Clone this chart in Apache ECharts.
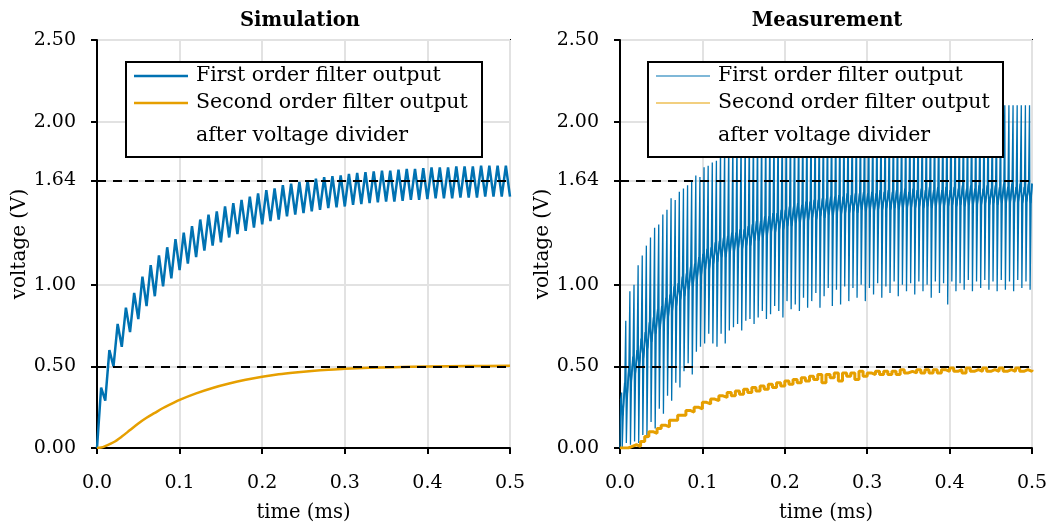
<!DOCTYPE html>
<html>
<head>
<meta charset="utf-8">
<script src="https://cdn.jsdelivr.net/npm/echarts@6/dist/echarts.min.js"></script>
<style>html,body{margin:0;padding:0;background:#fff}#c{width:1058px;height:528px}</style>
</head>
<body>
<div id="c"></div>
<script>
// ---------- data ----------
const xTicks = [0, 0.1, 0.2, 0.3, 0.4, 0.5];
const yTicks = [0, 0.5, 1.0, 1.64, 2.0, 2.5];
const refLines = [1.64, 0.5];
const titles = ['Simulation', 'Measurement'];
const seriesNames = ['First order filter output', 'Second order filter output\nafter voltage divider'];

// Simulation, first order: PWM period 0.01 ms; peaks at 0.005+0.01k, troughs at 0.01(k+1)
const simPwmPeriod = 0.01;
const simPeak = [0.37,0.60,0.76,0.86,0.95,1.05,1.12,1.18,1.23,1.28,1.32,1.36,1.40,1.43,1.45,1.48,1.50,1.52,1.54,1.56,1.58,1.59,1.61,1.62,1.63,1.64,1.65,1.66,1.665,1.67,1.68,1.685,1.69,1.695,1.70,1.70,1.705,1.71,1.71,1.715,1.72,1.72,1.72,1.725,1.725,1.725,1.73,1.73,1.73,1.73];
const simTrough = [0.29,0.50,0.62,0.71,0.79,0.87,0.93,0.99,1.04,1.09,1.13,1.17,1.21,1.24,1.26,1.29,1.31,1.33,1.35,1.37,1.39,1.40,1.42,1.43,1.44,1.45,1.46,1.47,1.475,1.48,1.49,1.495,1.50,1.505,1.51,1.51,1.515,1.52,1.52,1.525,1.53,1.53,1.53,1.535,1.535,1.535,1.54,1.54,1.54,1.54];

// Simulation, second order
const simOrdT = [0,0.005,0.01,0.02,0.03,0.04,0.05,0.06,0.07,0.08,0.09,0.10,0.12,0.14,0.16,0.18,0.20,0.22,0.24,0.26,0.28,0.30,0.33,0.36,0.40,0.45,0.50];
const simOrdV = [0,0.003,0.012,0.035,0.07,0.11,0.15,0.185,0.215,0.245,0.27,0.295,0.335,0.368,0.395,0.418,0.437,0.452,0.463,0.472,0.479,0.485,0.491,0.495,0.499,0.502,0.504];

// Measurement, first order: one switching spike every 0.005 ms
const measSpikeStep = 0.005;
const measTop = [0.34,0.78,0.96,1.00,1.12,1.18,1.24,1.29,1.35,1.37,
1.43,1.46,1.53,1.52,1.57,1.59,1.61,1.63,1.67,1.66,
1.72,1.73,1.75,1.76,1.85,1.87,1.89,1.91,1.93,1.95,
1.96,1.98,1.99,2.00,2.01,2.02,2.03,2.04,2.05,2.05,
2.06,2.06,2.07,2.07,2.08,2.08,2.08,2.09,2.09,2.09,
2.09,2.10,2.10,2.10,2.10,2.10,2.10,2.10,2.10,2.10,
2.10,2.10,2.10,2.10,2.10,2.10,2.10,2.10,2.10,2.10,
2.10,2.10,2.10,2.10,2.10,2.10,2.10,2.10,2.10,2.10,
2.10,2.10,2.10,2.10,2.10,2.10,2.10,2.10,2.10,2.10,
2.10,2.10,2.10,2.10,2.10,2.10,2.10,2.10,2.10,2.10];
const measBot = [0.00,0.03,0.02,0.04,0.03,0.08,0.06,0.16,0.12,0.24,
0.21,0.32,0.29,0.40,0.37,0.47,0.52,0.45,0.59,0.62,
0.64,0.70,0.64,0.62,0.70,0.64,0.72,0.74,0.76,0.72,
0.78,0.79,0.76,0.80,0.84,0.79,0.82,0.87,0.84,0.80,
0.90,0.85,0.88,0.84,0.92,0.86,0.90,0.95,0.86,0.93,
0.98,0.87,0.97,0.88,0.99,0.90,0.98,0.92,1.00,0.90,
0.98,0.94,1.01,0.92,0.99,0.95,1.02,0.93,1.00,0.96,
1.01,0.94,1.02,0.96,1.00,0.92,1.02,0.95,1.01,0.88,
1.02,0.96,1.01,0.97,1.03,0.96,1.02,0.98,1.03,0.97,
1.02,0.96,1.03,0.97,1.02,0.96,1.03,0.98,1.02,0.97];
const measBandHi = [0.30,0.40,0.50,0.56,0.60,0.67,0.71,0.77,0.80,0.85,
0.87,0.92,0.94,0.99,1.01,1.05,1.07,1.11,1.13,1.17,
1.19,1.22,1.23,1.26,1.27,1.29,1.30,1.32,1.32,1.34,
1.34,1.36,1.37,1.39,1.39,1.42,1.42,1.44,1.44,1.46,
1.46,1.48,1.48,1.50,1.49,1.51,1.51,1.52,1.52,1.53,
1.53,1.54,1.54,1.55,1.54,1.56,1.55,1.56,1.56,1.57,
1.56,1.57,1.56,1.58,1.57,1.58,1.57,1.58,1.57,1.59,
1.57,1.59,1.58,1.59,1.58,1.60,1.58,1.60,1.58,1.60,
1.58,1.60,1.59,1.61,1.59,1.61,1.59,1.61,1.59,1.61,
1.59,1.61,1.60,1.62,1.60,1.62,1.60,1.62,1.60,1.62];
const measBandLo = [0.20,0.30,0.40,0.45,0.50,0.55,0.61,0.65,0.70,0.73,
0.77,0.80,0.84,0.87,0.91,0.93,0.97,0.99,1.03,1.05,
1.09,1.10,1.13,1.14,1.17,1.17,1.20,1.20,1.22,1.22,
1.24,1.24,1.27,1.27,1.29,1.30,1.32,1.32,1.34,1.34,
1.36,1.36,1.38,1.38,1.39,1.39,1.41,1.40,1.42,1.41,
1.43,1.42,1.44,1.43,1.44,1.44,1.45,1.44,1.46,1.45,
1.46,1.45,1.46,1.46,1.47,1.46,1.47,1.46,1.47,1.47,
1.47,1.47,1.48,1.47,1.48,1.47,1.48,1.48,1.48,1.48,
1.49,1.48,1.49,1.48,1.49,1.49,1.49,1.49,1.50,1.49,
1.50,1.49,1.50,1.50,1.50,1.50,1.51,1.50,1.51,1.50];

// Measurement, second order (sampled every 0.005 ms)
const measOrdStep = 0.005;
const measOrd = [0.00,0.00,0.01,0.02,0.01,0.04,0.07,0.10,0.09,0.12,
0.14,0.13,0.17,0.17,0.20,0.20,0.23,0.22,0.25,0.24,
0.28,0.27,0.30,0.29,0.32,0.31,0.34,0.32,0.35,0.33,
0.36,0.34,0.37,0.35,0.38,0.36,0.39,0.37,0.40,0.38,
0.41,0.39,0.42,0.40,0.43,0.41,0.44,0.42,0.45,0.40,
0.45,0.43,0.46,0.41,0.46,0.44,0.46,0.42,0.47,0.44,
0.46,0.45,0.47,0.45,0.47,0.45,0.47,0.45,0.48,0.46,
0.47,0.46,0.48,0.46,0.48,0.46,0.48,0.46,0.48,0.47,
0.49,0.47,0.48,0.46,0.49,0.47,0.48,0.47,0.49,0.47,
0.48,0.47,0.49,0.47,0.48,0.47,0.49,0.47,0.48,0.47,0.48];

// ---------- build series data ----------
const BLUE = '#0072B2', ORANGE = '#E69F00';
const simBlueData = [[0, 0]];
simPeak.forEach((p, k) => {
  simBlueData.push([simPwmPeriod * k + simPwmPeriod / 2, p]);
  simBlueData.push([simPwmPeriod * (k + 1), simTrough[k]]);
});
const simOrdData = simOrdT.map((t, i) => [t, simOrdV[i]]);
const measBlueData = [[0, 0]];
const measBandData = [];
measTop.forEach((top, i) => {
  const t = 0.002 + measSpikeStep * i;
  measBlueData.push([t - 0.0012, measBandHi[i]]);
  measBlueData.push([t, top]);
  measBlueData.push([t + 0.0007, measBot[i]]);
  measBlueData.push([t + 0.0019, measBandLo[i]]);
  measBandData.push([t - 0.0012, measBandHi[i]]);
  measBandData.push([t + 0.0013, measBandLo[i]]);
});
measBlueData.push([0.5, measBandHi[measBandHi.length - 1]]);
measBandData.push([0.5, measBandHi[measBandHi.length - 1]]);
const measOrdData = measOrd.map((v, j) => [measOrdStep * j, v]);

// ---------- chart ----------
const FONT = 'DejaVu Serif';
const grids = [
  { left: 97, top: 40, width: 413, height: 413 },
  { left: 620, top: 40, width: 412, height: 413 }
];
function xAxis(i) {
  return {
    gridIndex: i, type: 'value', min: 0, max: 0.5, interval: 0.1,
    name: 'time (ms)', nameLocation: 'middle', nameGap: 55,
    nameTextStyle: { fontFamily: FONT, fontSize: 19.5, color: '#000' },
    axisLine: { lineStyle: { color: '#000', width: 2 } },
    axisTick: { length: 6, lineStyle: { color: '#000', width: 2 } },
    axisLabel: { fontFamily: FONT, fontSize: 19, color: '#000', margin: 26, formatter: v => v.toFixed(1) },
    splitLine: { show: true, lineStyle: { color: '#e2e2e2', width: 2 } }
  };
}
function yAxis(i) {
  return {
    gridIndex: i, type: 'value', min: 0, max: 2.5,
    name: 'voltage (V)', nameLocation: 'middle', nameGap: 64,
    nameTextStyle: { fontFamily: FONT, fontSize: 20, color: '#000' },
    axisLine: { lineStyle: { color: '#000', width: 2 } },
    axisTick: { length: 6, customValues: yTicks, lineStyle: { color: '#000', width: 2 } },
    axisLabel: { fontFamily: FONT, fontSize: 19, color: '#000', margin: 21, customValues: yTicks, formatter: v => v.toFixed(2) },
    splitLine: { show: true, lineStyle: { color: '#e2e2e2', width: 2 } }
  };
}
const dashLine = {
  silent: true, symbol: 'none', label: { show: false },
  lineStyle: { color: '#000', type: [9, 7], width: 2 },
  data: refLines.map(v => ({ yAxis: v }))
};

function legend(x, w, lw) {
  const y = 62;
  const ts = { fontFamily: FONT, fontSize: 20.5, fill: '#000', verticalAlign: 'middle' };
  return [
    { type: 'rect', z: 100, shape: { x: x, y: y, width: w, height: 95 }, style: { fill: '#fff', stroke: '#000', lineWidth: 2 } },
    { type: 'line', z: 101, shape: { x1: x + 8, y1: 76, x2: x + 62, y2: 76 }, style: { stroke: BLUE, lineWidth: lw } },
    { type: 'line', z: 101, shape: { x1: x + 8, y1: 103, x2: x + 62, y2: 103 }, style: { stroke: ORANGE, lineWidth: lw } },
    { type: 'text', z: 101, x: x + 70, y: 76, style: Object.assign({ text: seriesNames[0] }, ts) },
    { type: 'text', z: 101, x: x + 70, y: 103, style: Object.assign({ text: seriesNames[1].split('\n')[0] }, ts) },
    { type: 'text', z: 101, x: x + 70, y: 136, style: Object.assign({ text: seriesNames[1].split('\n')[1] }, ts) }
  ];
}

const option = {
  animation: false,
  backgroundColor: '#fff',
  title: [
    { text: titles[0], left: 295, top: 6, textAlign: 'center', textStyle: { fontFamily: FONT, fontSize: 19.5, fontWeight: 'bold', color: '#000' } },
    { text: titles[1], left: 822, top: 6, textAlign: 'center', textStyle: { fontFamily: FONT, fontSize: 19.5, fontWeight: 'bold', color: '#000' } }
  ],
  grid: grids.map(g => Object.assign({ show: true, borderColor: '#000', borderWidth: 2, backgroundColor: 'transparent' }, g)),
  xAxis: [xAxis(0), xAxis(1)],
  yAxis: [yAxis(0), yAxis(1)],
  series: [
    { type: 'line', name: 'simFirst', xAxisIndex: 0, yAxisIndex: 0, data: simBlueData, showSymbol: false, symbol: 'none', lineStyle: { color: BLUE, width: 2.5 }, z: 3, markLine: dashLine },
    { type: 'line', name: 'simSecond', xAxisIndex: 0, yAxisIndex: 0, data: simOrdData, showSymbol: false, symbol: 'none', smooth: 0.3, lineStyle: { color: ORANGE, width: 2.5 }, z: 3 },
    { type: 'line', name: 'measFirst', xAxisIndex: 1, yAxisIndex: 1, data: measBlueData, showSymbol: false, symbol: 'none', sampling: 'none', lineStyle: { color: BLUE, width: 1.3 }, z: 3, markLine: dashLine },
    { type: 'line', name: 'measFirstBand', xAxisIndex: 1, yAxisIndex: 1, data: measBandData, showSymbol: false, symbol: 'none', sampling: 'none', lineStyle: { color: BLUE, width: 1.7 }, z: 3 },
    { type: 'line', name: 'measSecond', xAxisIndex: 1, yAxisIndex: 1, data: measOrdData, showSymbol: false, symbol: 'none', step: 'end', lineStyle: { color: ORANGE, width: 3 }, z: 3 }
  ],
  graphic: legend(126, 356, 2.5).concat(legend(648, 355, 1.2))
};
const chart = echarts.init(document.getElementById('c'), null, { renderer: 'canvas' });
chart.setOption(option);
</script>
</body>
</html>
